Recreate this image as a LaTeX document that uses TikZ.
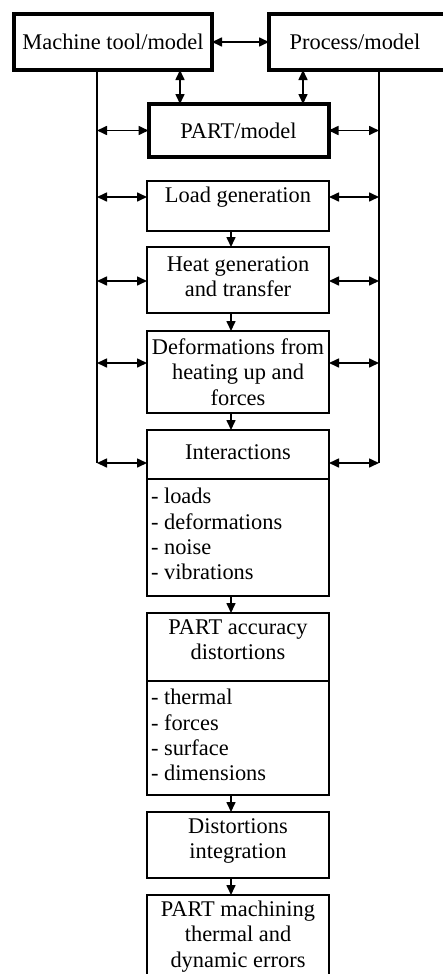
\documentclass[tikz,border=0pt]{standalone}
\usepackage{fontspec}
\setmainfont{Liberation Serif}
\usetikzlibrary{arrows.meta}
\begin{document}
\begin{tikzpicture}[x=1pt,y=-1pt,
  every node/.style={font=\fontsize{22.4}{25.3}\selectfont, inner sep=0pt, outer sep=0pt},
  thickbox/.style={draw, line width=4pt, rectangle, anchor=north west},
  thinbox/.style={draw, line width=1.6pt, rectangle, anchor=north west},
  txt/.style={align=center},
  lst/.style={align=left, anchor=west},
  link/.style={line width=1.6pt},
  dbl/.style={line width=1.6pt, {Triangle[length=10pt,width=9pt]}-{Triangle[length=10pt,width=9pt]}},
  downarr/.style={line width=1.6pt, -{Triangle[length=10pt,width=9pt]}}
]
\useasboundingbox (0,0) rectangle (442,974);
% boxes
\node[thickbox, minimum width=198, minimum height=56] (mach) at (14,14) {};
\node[thickbox, minimum width=180, minimum height=56] (proc) at (269,14) {};
\node[thickbox, minimum width=180, minimum height=53] (partm) at (148.5,104) {};
\node[thinbox, minimum width=182, minimum height=50] (load) at (147,181) {};
\node[thinbox, minimum width=182, minimum height=66] (heat) at (147,247) {};
\node[thinbox, minimum width=182, minimum height=82] (deform) at (147,331) {};
\node[thinbox, minimum width=182, minimum height=49] (inter) at (147,430) {};
\node[thinbox, minimum width=182, minimum height=117] (interl) at (147,479) {};
\node[thinbox, minimum width=182, minimum height=68] (acc) at (147,613) {};
\node[thinbox, minimum width=182, minimum height=114] (accl) at (147,681) {};
\node[thinbox, minimum width=182, minimum height=66] (dint) at (147,812) {};
\node[thinbox, minimum width=182, minimum height=90] (pmach) at (147,895) {};
% texts
\node (macht) at (mach.center) {Machine tool/model};
\node (proct) at (355,42) {Process/model};
\node (partmt) at (partm.center) {PART/model};
\node (loadt) at (238,197) {Load generation};
\node[txt] (heatt) at (238,277) {Heat generation\\and transfer};
\node[txt] (deformt) at (238,372) {Deformations from\\heating up and\\forces};
\node (intert) at (238,452) {Interactions};
\node[lst] (interlt) at (151,534) {- loads\\- deformations\\- noise\\- vibrations};
\node[txt] (acct) at (238,640) {PART accuracy\\distortions};
\node[lst] (acclt) at (151,735) {- thermal\\- forces\\- surface\\- dimensions};
\node[txt] (dintt) at (238,841) {Distortions\\integration};
\node[txt] (pmacht) at (238,936.5) {PART machining\\thermal and\\dynamic errors};
% coordinates
\coordinate (lx) at (97,0);
\coordinate (rx) at (379,0);
\coordinate (ax1) at (180,0);
\coordinate (ax2) at (303,0);
\coordinate (dx) at (231,0);
\coordinate (yload) at (0,197);
\coordinate (yheat) at (0,281);
\coordinate (ydef) at (0,363);
\coordinate (yint) at (0,463);
% top connectors
\draw[dbl] (mach.east) -- (proc.west);
\draw[dbl] (ax1 |- mach.south) -- (ax1 |- partm.north);
\draw[dbl] (ax2 |- proc.south) -- (ax2 |- partm.north);
% side rails
\draw[link] (lx |- mach.south) -- (lx |- yint);
\draw[link] (rx |- proc.south) -- (rx |- yint);
% side arrows
\draw[dbl] (lx |- partm.west) -- (partm.west);
\draw[dbl] (partm.east) -- (rx |- partm.east);
\draw[dbl] (lx |- yload) -- (load.west |- yload);
\draw[dbl] (load.east |- yload) -- (rx |- yload);
\draw[dbl] (lx |- yheat) -- (heat.west |- yheat);
\draw[dbl] (heat.east |- yheat) -- (rx |- yheat);
\draw[dbl] (lx |- ydef) -- (deform.west |- ydef);
\draw[dbl] (deform.east |- ydef) -- (rx |- ydef);
\draw[dbl] (lx |- yint) -- (inter.west |- yint);
\draw[dbl] (inter.east |- yint) -- (rx |- yint);
% down arrows
\draw[downarr] (dx |- load.south) -- (dx |- heat.north);
\draw[downarr] (dx |- heat.south) -- (dx |- deform.north);
\draw[downarr] (dx |- deform.south) -- (dx |- inter.north);
\draw[downarr] (dx |- interl.south) -- (dx |- acc.north);
\draw[downarr] (dx |- accl.south) -- (dx |- dint.north);
\draw[downarr] (dx |- dint.south) -- (dx |- pmach.north);
\end{tikzpicture}
\end{document}
